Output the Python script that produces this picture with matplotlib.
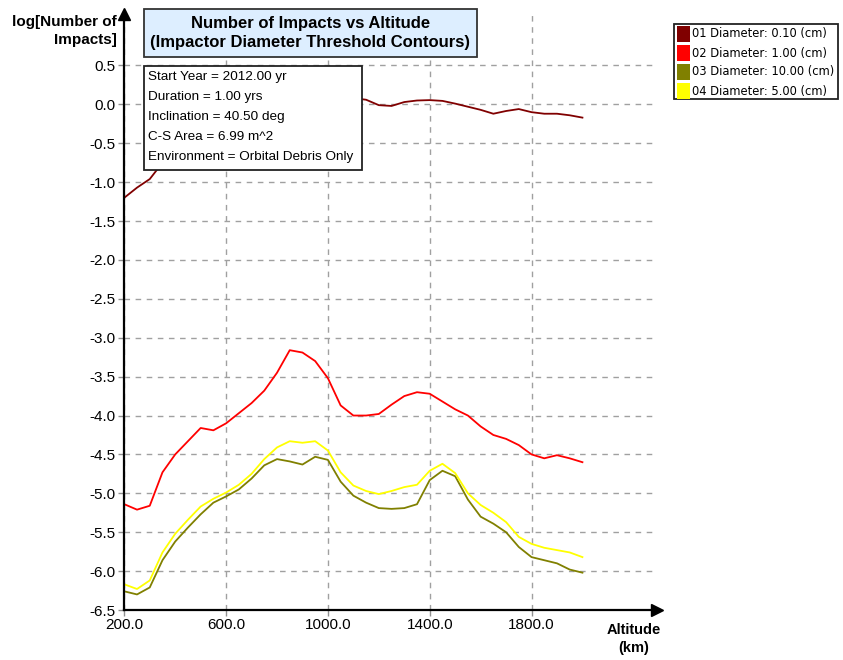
import matplotlib
matplotlib.use("Agg")
import matplotlib.pyplot as plt
from matplotlib.patches import Rectangle

# ---------------- data ----------------
altitude = [200, 250, 300, 350, 400, 450, 500, 550, 600, 650, 700, 750, 800, 850, 900, 950,
            1000, 1050, 1100, 1150, 1200, 1250, 1300, 1350, 1400, 1450, 1500, 1550, 1600,
            1650, 1700, 1750, 1800, 1850, 1900, 1950, 2000]

d010 = [-1.20, -1.07, -0.96, -0.75, -0.60, -0.45, -0.35, -0.25, -0.15, -0.08, -0.02, 0.02,
        0.05, 0.08, 0.10, 0.10, 0.10, 0.09, 0.08, 0.06, -0.01, -0.02, 0.03, 0.05, 0.055,
        0.045, 0.01, -0.03, -0.07, -0.12, -0.085, -0.06, -0.10, -0.12, -0.12, -0.14, -0.17]

d100 = [-5.14, -5.21, -5.16, -4.73, -4.50, -4.33, -4.16, -4.19, -4.10, -3.97, -3.84, -3.68,
        -3.45, -3.16, -3.19, -3.30, -3.52, -3.87, -4.00, -4.00, -3.98, -3.86, -3.75, -3.70,
        -3.72, -3.82, -3.92, -4.00, -4.14, -4.25, -4.30, -4.38, -4.50, -4.55, -4.51, -4.55,
        -4.60]

d1000 = [-6.26, -6.30, -6.21, -5.86, -5.62, -5.44, -5.27, -5.12, -5.04, -4.95, -4.81, -4.64,
         -4.56, -4.59, -4.63, -4.53, -4.57, -4.85, -5.03, -5.12, -5.19, -5.20, -5.19, -5.14,
         -4.83, -4.71, -4.78, -5.08, -5.30, -5.39, -5.50, -5.69, -5.82, -5.86, -5.90, -5.98,
         -6.02]

d500 = [-6.17, -6.23, -6.12, -5.76, -5.52, -5.34, -5.17, -5.07, -4.99, -4.89, -4.75, -4.56,
        -4.41, -4.33, -4.35, -4.33, -4.45, -4.73, -4.90, -4.97, -5.01, -4.97, -4.92, -4.89,
        -4.71, -4.62, -4.74, -5.00, -5.15, -5.25, -5.37, -5.56, -5.65, -5.70, -5.73, -5.76,
        -5.82]

series_labels = ["01 Diameter: 0.10 (cm)", "02 Diameter: 1.00 (cm)",
                 "03 Diameter: 10.00 (cm)", "04 Diameter: 5.00 (cm)"]
series_colors = ["#800000", "#ff0000", "#808000", "#ffff00"]
series_values = [d010, d100, d1000, d500]

x_ticks = [200, 600, 1000, 1400, 1800]
x_tick_labels = ["200.0", "600.0", "1000.0", "1400.0", "1800.0"]
y_ticks = [-6.5, -6.0, -5.5, -5.0, -4.5, -4.0, -3.5, -3.0, -2.5, -2.0, -1.5, -1.0, -0.5, 0.0, 0.5]
y_tick_labels = ["-6.5", "-6.0", "-5.5", "-5.0", "-4.5", "-4.0", "-3.5", "-3.0", "-2.5",
                 "-2.0", "-1.5", "-1.0", "-0.5", "0.0", "0.5"]

title_text = "Number of Impacts vs Altitude\n(Impactor Diameter Threshold Contours)"
info_lines = ["Start Year = 2012.00 yr", "Duration = 1.00 yrs", "Inclination = 40.50 deg",
              "C-S Area = 6.99 m^2", "Environment = Orbital Debris Only"]

# ---------------- figure ----------------
W, H = 843, 660
fig = plt.figure(figsize=(W / 100, H / 100), dpi=100)
fig.patch.set_facecolor("white")

def fx(px):
    return px / W

def fy(py):
    return 1 - py / H

ax_l, ax_r, ax_t, ax_b = 124.3, 657.0, 14.0, 610.0
ax = fig.add_axes([fx(ax_l), fy(ax_b), fx(ax_r) - fx(ax_l), fy(ax_t) - fy(ax_b)])
ax.set_xlim(200, 2293)
ax.set_ylim(-6.5, 1.162)

for vals, col in zip(series_values, series_colors):
    ax.plot(altitude, vals, color=col, lw=1.3, zorder=3, solid_joinstyle="round")

ax.set_xticks(x_ticks)
ax.set_xticklabels(x_tick_labels, fontfamily="Liberation Sans", fontsize=11)
ax.set_yticks(y_ticks)
ax.set_yticklabels(y_tick_labels, fontfamily="Liberation Sans", fontsize=11)
ax.tick_params(axis="both", direction="out", length=4, width=1, color="#909090")
ax.tick_params(axis="y", pad=2)
ax.tick_params(axis="x", pad=2)

ax.grid(True, color="#a0a0a0", linestyle=(0, (4, 4)), linewidth=1.0)
ax.set_axisbelow(True)

for s in ["top", "right"]:
    ax.spines[s].set_visible(False)
for s in ["left", "bottom"]:
    ax.spines[s].set_linewidth(1.6)
    ax.spines[s].set_color("black")
    ax.spines[s].set_zorder(4)

ax.plot(1, 0, marker=">", color="black", markersize=8, transform=ax.transAxes,
        clip_on=False, zorder=5)
ax.plot(0, 1, marker="^", color="black", markersize=8, transform=ax.transAxes,
        clip_on=False, zorder=5)

# y axis label (top-left)
fig.text(fx(117), fy(31), "log[Number of\nImpacts]", ha="right", va="center",
         fontfamily="Liberation Sans", fontweight="bold", fontsize=11, linespacing=1.35)
# x axis label
fig.text(fx(634), fy(639), "Altitude\n(km)", ha="center", va="center",
         fontfamily="Liberation Sans", fontweight="bold", fontsize=10.5, linespacing=1.35,
         multialignment="center")

# title box
tb_l, tb_r, tb_t, tb_b = 144, 477, 9, 57
fig.add_artist(Rectangle((fx(tb_l), fy(tb_b)), fx(tb_r) - fx(tb_l), fy(tb_t) - fy(tb_b),
                         transform=fig.transFigure, facecolor="#ddeeff", edgecolor="#333333",
                         linewidth=1.3, zorder=6))
fig.text(fx((tb_l + tb_r) / 2), fy((tb_t + tb_b) / 2), title_text, ha="center", va="center",
         fontfamily="Liberation Sans", fontweight="bold", fontsize=12, linespacing=1.3,
         multialignment="center", zorder=7)

# info box
ib_l, ib_r, ib_t, ib_b = 144, 362, 66, 170
fig.add_artist(Rectangle((fx(ib_l), fy(ib_b)), fx(ib_r) - fx(ib_l), fy(ib_t) - fy(ib_b),
                         transform=fig.transFigure, facecolor="white", edgecolor="#222222",
                         linewidth=1.3, zorder=6))
for i, line in enumerate(info_lines):
    fig.text(fx(148), fy(77 + 20 * i), line, ha="left", va="center",
             fontfamily="Liberation Sans", fontsize=9.7, zorder=7)

# legend box
lg_l, lg_r, lg_t, lg_b = 674, 838, 24, 99
fig.add_artist(Rectangle((fx(lg_l), fy(lg_b)), fx(lg_r) - fx(lg_l), fy(lg_t) - fy(lg_b),
                         transform=fig.transFigure, facecolor="white", edgecolor="#222222",
                         linewidth=1.3, zorder=6))
for i, (lab, col) in enumerate(zip(series_labels, series_colors)):
    cy = 34 + 19 * i
    fig.add_artist(Rectangle((fx(677), fy(cy + 8)), fx(690) - fx(677), fy(cy - 8) - fy(cy + 8),
                             transform=fig.transFigure, facecolor=col, edgecolor="none",
                             zorder=7))
    fig.text(fx(692), fy(cy), lab, ha="left", va="center", fontfamily="DejaVu Sans",
             fontsize=8.3, zorder=7)

fig.savefig("out.png", dpi=100)
